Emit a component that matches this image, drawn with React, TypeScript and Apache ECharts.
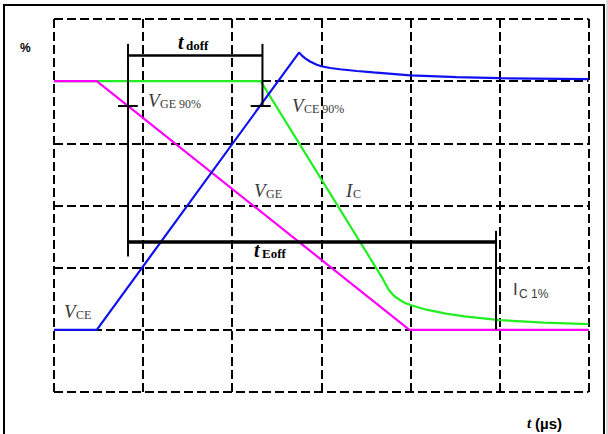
import React, { useEffect, useRef } from "react";
import * as echarts from "echarts";

// time axis in grid divisions, values in %
const vceT = [0, 0.48, 2.75, 2.78, 2.82, 2.874, 2.95, 3.0, 3.1, 3.21, 3.4, 3.585, 4.0, 4.52, 5.0, 6.0];
const vceP = [0, 0, 111.5, 110.4, 109.2, 107.9, 106.6, 106.0, 105.3, 104.8, 104.1, 103.5, 102.3, 101.6, 101.2, 100.8];

const vgeT = [0, 0.48, 3.99, 6.0];
const vgeP = [100, 100, 0, 0];

const icT = [0, 2.32, 3.68, 3.72, 3.76, 3.81, 3.87, 3.93, 4.0, 4.18, 4.4, 4.61, 5.0, 5.5, 6.0];
const icP = [100, 100, 21.2, 18.5, 16.0, 13.9, 12.3, 11.0, 10.0, 8.1, 6.5, 5.4, 3.9, 2.9, 2.3];

// annotation lines (time, %)
const tdoffBar = [[0.823, 110.3], [2.34, 110.3]];
const tdoffLeft = [[0.831, 115], [0.831, 29.5]];
const tdoffRight = [[2.34, 115], [2.34, 90]];
const ge90Tick = [[0.718, 90], [0.94, 90]];
const ce90Tick = [[2.208, 90], [2.433, 90]];
const teoffBar = [[0.823, 35.3], [4.962, 35.3]];
const teoffRight = [[4.962, 39.8], [4.962, 0]];

const xTicks = [0, 1, 2, 3, 4, 5, 6];
const yMin = -25;
const yMax = 125;

const zip = (a: number[], b: number[]) => a.map((v, i) => [v, b[i]]);

const SERIF = "'Liberation Serif', serif";
const SANS = "'Liberation Sans', Arial, sans-serif";
const GRAY = "#3a3a3a";

function txt(x: number, y: number, text: string, font: any) {
  return {
    type: "text",
    x,
    y,
    z: 100,
    style: {
      text,
      fill: font.color || GRAY,
      fontSize: font.size,
      fontFamily: font.family || SERIF,
      fontStyle: font.italic ? "italic" : "normal",
      fontWeight: font.bold ? "bold" : "normal",
      align: "left",
      verticalAlign: "middle",
    },
  };
}

export default function App() {
  const ref = useRef<HTMLDivElement>(null);
  useEffect(() => {
    if (!ref.current) return;
    const chart = echarts.init(ref.current, undefined, { renderer: "svg" });
    const ann = (data: number[][], width: number) => ({
      type: "line",
      data,
      symbol: "none",
      z: 5,
      lineStyle: { color: "#000", width },
      silent: true,
    });
    const vSerif = { size: 19, italic: true };
    const sub = { size: 12 };
    const boldT = { size: 20, bold: true, italic: true, color: "#000" };
    const boldSub = { size: 13, bold: true, color: "#000" };
    chart.setOption({
      animation: false,
      backgroundColor: "#fff",
      grid: { left: 54, top: 19, right: 19.5, bottom: 42, containLabel: false },
      xAxis: {
        type: "value",
        min: xTicks[0],
        max: xTicks[xTicks.length - 1],
        interval: 1,
        axisLine: { show: false },
        axisTick: { show: false },
        axisLabel: { show: false },
        splitLine: { show: true, lineStyle: { color: "#000", width: 2, type: [9, 4] } },
      },
      yAxis: {
        type: "value",
        min: yMin,
        max: yMax,
        interval: 25,
        axisLine: { show: false },
        axisTick: { show: false },
        axisLabel: { show: false },
        splitLine: { show: true, lineStyle: { color: "#000", width: 2, type: [9, 4] } },
      },
      series: [
        { type: "line", data: zip(icT, icP), symbol: "none", z: 2, lineStyle: { color: "#22ee22", width: 2.2 } },
        { type: "line", data: zip(vgeT, vgeP), symbol: "none", z: 3, lineStyle: { color: "#ff00ff", width: 2.2 } },
        { type: "line", data: zip(vceT, vceP), symbol: "none", z: 4, lineStyle: { color: "#1010f0", width: 2.2 } },
        ann(tdoffBar, 2.5),
        ann(tdoffLeft, 2),
        ann(tdoffRight, 2),
        ann(ge90Tick, 2),
        ann(ce90Tick, 2),
        ann(teoffBar, 3.5),
        ann(teoffRight, 2),
      ],
      graphic: [
        {
          type: "rect",
          shape: { x: 4, y: 5, width: 600, height: 440 },
          style: { fill: "none", stroke: "#000", lineWidth: 2 },
          z: 100,
        },
        {
          type: "rect",
          shape: { x: 606, y: 0, width: 2, height: 434 },
          style: { fill: "#d8d8d8" },
          z: 100,
        },
        txt(20, 48, "%", { size: 12, bold: true, family: SANS, color: "#000" }),
        txt(178, 42.2, "t", boldT),
        txt(186, 45.6, "doff", boldSub),
        txt(148, 100.5, "V", vSerif),
        txt(160, 104, "GE 90%", sub),
        txt(292, 105.5, "V", vSerif),
        txt(304, 109, "CE 90%", sub),
        txt(254, 190.5, "V", vSerif),
        txt(266, 194, "GE", sub),
        txt(346, 190.5, "I", vSerif),
        txt(353, 194, "C", sub),
        txt(254, 250.2, "t", boldT),
        txt(262, 253.6, "Eoff", boldSub),
        txt(64, 311.5, "V", vSerif),
        txt(76, 314.6, "CE", sub),
        txt(513, 289.2, "I", { size: 17, family: SANS }),
        txt(519, 293.6, "C 1%", { size: 12, family: SANS }),
        txt(527, 423, "t", { size: 15, bold: true, italic: true, color: "#000" }),
        txt(535, 423, "(µs)", { size: 15, bold: true, color: "#000", family: SANS }),
      ],
    });
    return () => chart.dispose();
  }, []);
  return (
    <div
      ref={ref}
      style={{ position: "absolute", left: 0, top: 0, width: 608, height: 434, background: "#fff" }}
    />
  );
}
